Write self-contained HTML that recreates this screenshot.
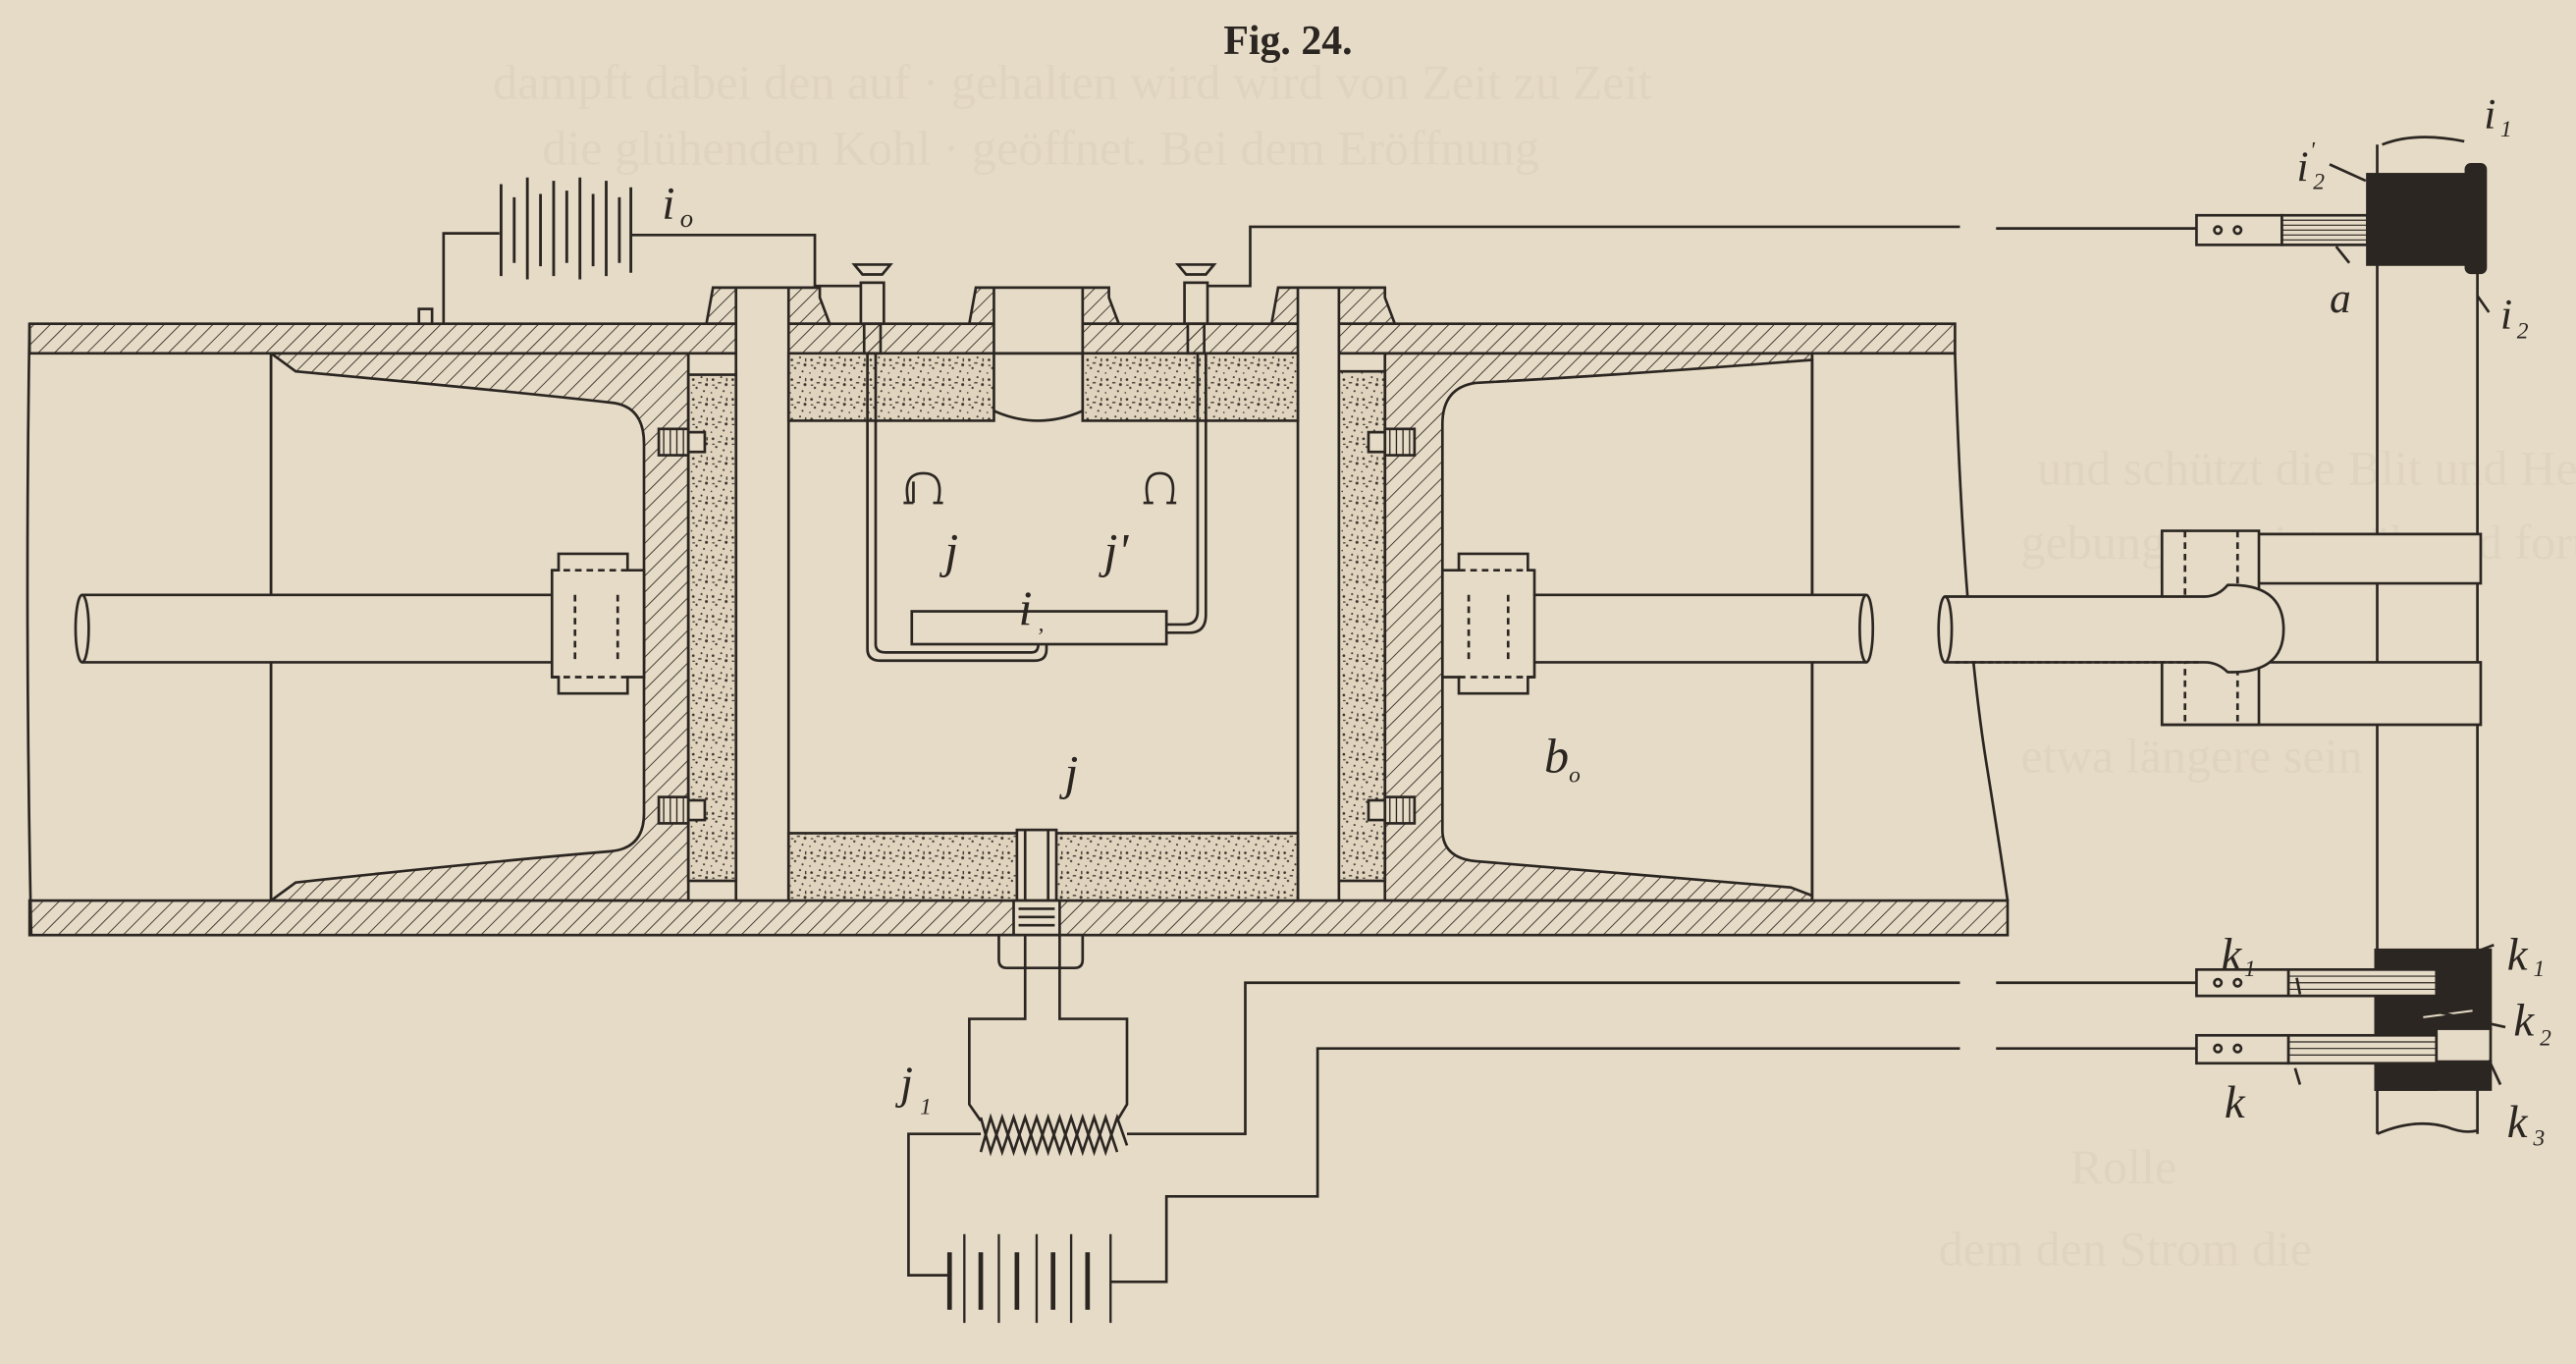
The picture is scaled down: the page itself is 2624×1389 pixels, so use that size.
<!DOCTYPE html>
<html><head><meta charset="utf-8"><style>
html,body{margin:0;padding:0;background:#e6dbc6;}
svg{display:block}
</style></head><body>
<svg width="2624" height="1389" viewBox="0 0 1568 830" xmlns="http://www.w3.org/2000/svg">
<defs>
<pattern id="h" width="7" height="7" patternUnits="userSpaceOnUse" patternTransform="rotate(45)">
<line x1="0" y1="0" x2="0" y2="7" stroke="#3a332c" stroke-width="1.1"/>
</pattern>
<pattern id="s" width="12" height="12" patternUnits="userSpaceOnUse">
<rect width="12" height="12" fill="#e0d4be"/>
<g fill="#3a332c">
<circle cx="2" cy="3" r="0.8"/><circle cx="7" cy="1.5" r="0.6"/><circle cx="10" cy="6" r="0.9"/>
<circle cx="4" cy="8" r="0.7"/><circle cx="8.5" cy="10" r="0.6"/><circle cx="1" cy="11" r="0.5"/>
<rect x="5" y="4.5" width="2" height="0.8"/><rect x="10" y="2" width="0.8" height="2"/><rect x="1.5" y="6" width="1.5" height="0.7"/>
</g>
</pattern>
</defs>
<rect width="1568" height="830" fill="#e6dbc6"/>
<g fill="#d2c6b0" font-family="Liberation Serif, serif" font-size="30" opacity="0.3">
<text x="300" y="60">dampft dabei den auf · gehalten wird wird von Zeit zu Zeit</text>
<text x="330" y="100">die glühenden Kohl · geöffnet. Bei dem Eröffnung</text>
<text x="1240" y="295">und schützt die Blit und Herdbewegung</text>
<text x="1230" y="340">gebung erweist während fortwährend</text>
<text x="1230" y="470">etwa längere sein</text>
<text x="1260" y="720">Rolle</text>
<text x="1180" y="770">dem den Strom die</text>
</g>
<text x="784" y="33" text-anchor="middle" font-family="Liberation Serif, serif" font-weight="bold" font-size="25" fill="#2b2622">Fig. 24.</text>

<g stroke="#2b2622" stroke-width="1.6" fill="none">
<rect x="18" y="197" width="1172" height="18" fill="url(#h)"/>
<rect x="18" y="548" width="1204" height="21" fill="url(#h)"/>
<path d="M18 197 Q15 380 19 569"/>
<path d="M1190 215 Q1195 380 1210 470 Q1218 520 1222 548"/>
<path d="M430 197 L434 175 L499 175 L499 181 L505 197 Z" fill="url(#h)"/>
<path d="M590 197 L594 175 L675 175 L675 181 L681 197 Z" fill="url(#h)"/>
<path d="M774 197 L778 175 L843 175 L843 181 L849 197 Z" fill="url(#h)"/>
<rect x="605" y="175" width="54" height="40" fill="#e6dbc6"/>
<rect x="448" y="175" width="32" height="373" fill="#e6dbc6"/>
<rect x="790" y="175" width="25" height="373" fill="#e6dbc6"/>
<path d="M480 215 H605 V256 H480 Z" fill="url(#s)"/>
<path d="M659 215 H790 V256 H659 Z" fill="url(#s)"/>
<path d="M605 250 Q632 262 659 250" />
<rect x="480" y="507" width="310" height="41" fill="url(#s)"/>
<path d="M165 215 H419 V548 H165 Z" fill="url(#h)"/>
<path d="M165 215 L180 226 Q300 237 372 245 Q392 247 392 270 L392 495 Q392 516 372 518 Q300 524 180 537 L165 548" fill="#e6dbc6"/>
<line x1="165" y1="215" x2="165" y2="548"/>
<rect x="419" y="228" width="29" height="308" fill="url(#s)"/>
<path d="M843 215 H1103 V548 H843 Z" fill="url(#h)"/>
<path d="M1103 219 L1090 220 Q990 228 898 233 Q878 236 878 258 L878 505 Q878 522 898 524 Q990 532 1090 540 L1103 545 Z" fill="#e6dbc6"/>
<line x1="1103" y1="215" x2="1103" y2="548"/>
<rect x="815" y="226" width="28" height="310" fill="url(#s)"/>
<g fill="#e6dbc6">
<rect x="401" y="261" width="18" height="16"/><rect x="419" y="263" width="10" height="12"/>
<rect x="401" y="485" width="18" height="16"/><rect x="419" y="487" width="10" height="12"/>
<rect x="843" y="261" width="18" height="16"/><rect x="833" y="263" width="10" height="12"/>
<rect x="843" y="485" width="18" height="16"/><rect x="833" y="487" width="10" height="12"/>
</g>
<g stroke-width="0.8">
<path d="M404 261 V277 M408 261 V277 M412 261 V277 M416 261 V277 M404 485 V501 M408 485 V501 M412 485 V501 M416 485 V501"/>
<path d="M846 261 V277 M850 261 V277 M854 261 V277 M858 261 V277 M846 485 V501 M850 485 V501 M854 485 V501 M858 485 V501"/>
</g>
<path d="M50 362 H392 V403 H50" fill="#e6dbc6"/>
<ellipse cx="50" cy="382.5" rx="4" ry="20.5" fill="#e6dbc6"/>
<path d="M340 337 H382 V347 H392 V412 H382 V422 H340 V412 H336 V347 H340 Z" fill="#e6dbc6"/>
<path d="M336 347 H382 M336 412 H382 M350 362 V403 M376 362 V403" stroke-dasharray="4 3"/>
<path d="M1136 362 H878 V403 H1136" fill="#e6dbc6"/>
<ellipse cx="1136" cy="382.5" rx="4" ry="20.5" fill="#e6dbc6"/>
<path d="M930 337 H888 V347 H878 V412 H888 V422 H930 V412 H934 V347 H930 Z" fill="#e6dbc6"/>
<path d="M934 347 H888 M934 412 H888 M894 362 V403 M918 362 V403" stroke-dasharray="4 3"/>
<g fill="#e6dbc6">
<rect x="524" y="172" width="14" height="25"/><rect x="526" y="197" width="10" height="18" fill="url(#h)"/>
<path d="M520 161 H542 L537 167 H525 Z"/>
<rect x="721" y="172" width="14" height="25"/><rect x="723" y="197" width="10" height="18" fill="url(#h)"/>
<path d="M717 161 H739 L734 167 H722 Z"/>
</g>
<path d="M528 215 V395 Q528 402 536 402 H630 Q637 402 637 395 V392"/>
<path d="M533 215 V392 Q533 397 539 397 H628 Q632 397 632 392"/>
<path d="M729 215 V372 Q729 380 721 380 H710"/>
<path d="M734 215 V374 Q734 385 724 385 H710"/>
<rect x="555" y="372" width="155" height="20" fill="#e6dbc6"/>
<path d="M553 306 Q549 288 562 288 Q575 288 571 306 M550 306 H556 M568 306 H574 M556 293 V306"/>
<path d="M699 306 Q695 288 706 288 Q717 288 713 306 M696 306 H702 M710 306 H716"/>
<rect x="255" y="188" width="8" height="9" fill="#e6dbc6"/>
<path d="M270 197 V142 H304 M384 143 H496 V174 H524"/>
<g stroke-width="1.7">
<path d="M305 112 V168 M313 120 V160 M321 108 V170 M329 118 V162 M337 110 V168 M345 116 V160 M353 108 V170 M361 118 V162 M369 110 V168 M377 120 V160 M384 114 V166"/>
</g>
<path d="M735 174 H761 V138 H1193 M1215 139 H1337"/>
<rect x="619" y="505" width="24" height="43" fill="#e6dbc6"/>
<path d="M624 505 V548 M638 505 V548"/>
<rect x="617" y="548" width="28" height="21" fill="#e6dbc6"/>
<path d="M620 553 H642 M620 558 H642 M620 563 H642"/>
<path d="M608 569 H659 V584 Q659 589 654 589 H613 Q608 589 608 584 Z" fill="#e6dbc6"/>
<path d="M624 569 V589 M645 569 V589"/>
<path d="M624 589 V620 H590 V672 L597 682 M645 589 V620 H686 V672 L680 682"/>
<path d="M597 680 L603 701 L610 680 L617 701 L624 680 L631 701 L638 680 L645 701 L652 680 L659 701 L666 680 L673 701 L680 680 L686 697"/>
<path d="M597 701 L603 680 L610 701 L617 680 L624 701 L631 680 L638 701 L645 680 L652 701 L659 680 L666 701 L673 680 L680 701"/>
<path d="M686 690 H758 V598 H1193 M1215 598 H1337"/>
<path d="M676 780 H710 V728 H802 V638 H1193 M1215 638 H1337"/>
<path d="M597 690 H553 V776 H578"/>
<g stroke-width="1.4"><path d="M587 751 V805 M608 751 V805 M631 751 V805 M652 751 V805 M676 751 V805"/></g>
<g stroke-width="2.8"><path d="M578 762 V797 M597 762 V797 M619 762 V797 M641 762 V797 M662 762 V797"/></g>
<path d="M1447 88 V325 M1508 100 V325 M1447 355 V403 M1508 355 V403 M1447 441 V690 M1508 441 V690"/>
<path d="M1447 690 Q1470 680 1490 686 Q1500 690 1508 688" />
<path d="M1450 88 Q1470 80 1500 86" fill="#e6dbc6"/>
<path d="M1316 325 H1510 V355 H1316 Z" fill="#e6dbc6"/>
<path d="M1316 403 H1510 V441 H1316 Z" fill="#e6dbc6"/>
<path d="M1316 323 H1375 V441 H1316 Z" fill="#e6dbc6"/>
<path d="M1330 323 V441 M1362 323 V441" stroke-dasharray="4 3"/>
<path d="M1184 363 H1342 Q1350 363 1356 356 Q1390 355 1390 383 Q1390 410 1356 409 Q1350 403 1342 403 H1184" fill="#e6dbc6"/>
<ellipse cx="1184" cy="383" rx="4" ry="20" fill="#e6dbc6"/>
<path d="M1190 403 H1340" stroke-dasharray="3 2"/>
<rect x="1337" y="131" width="52" height="18" fill="#e6dbc6"/>
<circle cx="1350" cy="140" r="2.2"/><circle cx="1362" cy="140" r="2.2"/>
<rect x="1389" y="131" width="52" height="18" fill="#e6dbc6"/>
<path d="M1389 134 H1441 M1389 137 H1441 M1389 140 H1441 M1389 143 H1441 M1389 146 H1441" stroke-width="0.7"/>
<rect x="1441" y="106" width="62" height="55" fill="#2b2622"/>
<rect x="1501" y="100" width="12" height="66" rx="3" fill="#2b2622"/>
<rect x="1446" y="578" width="70" height="48" fill="#2b2622"/>
<rect x="1446" y="604" width="37" height="59" fill="#2b2622"/>
<rect x="1446" y="646" width="70" height="17" fill="#2b2622"/>
<rect x="1483" y="626" width="33" height="20" fill="#e6dbc6"/>
<rect x="1337" y="590" width="56" height="16" fill="#e6dbc6"/>
<circle cx="1350" cy="598" r="2.2"/><circle cx="1362" cy="598" r="2.2"/>
<rect x="1393" y="590" width="90" height="16" fill="#e6dbc6"/>
<path d="M1393 594 H1483 M1393 598 H1483 M1393 602 H1483" stroke-width="0.7"/>
<rect x="1337" y="630" width="56" height="17" fill="#e6dbc6"/>
<circle cx="1350" cy="638" r="2.2"/><circle cx="1362" cy="638" r="2.2"/>
<rect x="1393" y="630" width="90" height="17" fill="#e6dbc6"/>
<path d="M1393 634 H1483 M1393 638 H1483 M1393 642 H1483" stroke-width="0.7"/>
<path d="M1475 619 L1505 615" stroke="#e6dbc6" stroke-width="1.2"/>
<path d="M1418 100 L1440 110 M1430 160 L1422 150 M1508 180 L1515 190 M1505 580 L1518 575 M1480 615 L1525 625 M1515 645 L1522 660 M1400 605 L1398 595 M1400 660 L1397 650"/>
</g>

<g font-family="Liberation Serif, serif" font-style="italic" fill="#2b2622">
<text x="403" y="133" font-size="28">i</text><text x="414" y="138" font-size="16">o</text>
<text x="575" y="345" font-size="30">j</text>
<text x="672" y="345" font-size="30">j'</text>
<text x="620" y="380" font-size="30">i</text><text x="632" y="384" font-size="14">,</text>
<text x="648" y="480" font-size="30">j</text>
<text x="548" y="668" font-size="28">j</text><text x="560" y="678" font-size="14">1</text>
<text x="940" y="470" font-size="30">b</text><text x="955" y="476" font-size="14">o</text>
<text x="1398" y="110" font-size="26">i</text><text x="1408" y="115" font-size="14">2</text><text x="1406" y="96" font-size="14">'</text>
<text x="1512" y="78" font-size="26">i</text><text x="1522" y="83" font-size="14">1</text>
<text x="1418" y="190" font-size="26">a</text>
<text x="1522" y="200" font-size="26">i</text><text x="1532" y="206" font-size="14">2</text>
<text x="1352" y="590" font-size="28">k</text><text x="1366" y="594" font-size="14">1</text>
<text x="1526" y="590" font-size="28">k</text><text x="1542" y="594" font-size="14">1</text>
<text x="1530" y="630" font-size="28">k</text><text x="1546" y="636" font-size="14">2</text>
<text x="1354" y="680" font-size="28">k</text>
<text x="1526" y="692" font-size="28">k</text><text x="1542" y="697" font-size="14">3</text>
</g>
</svg>
</body></html>
